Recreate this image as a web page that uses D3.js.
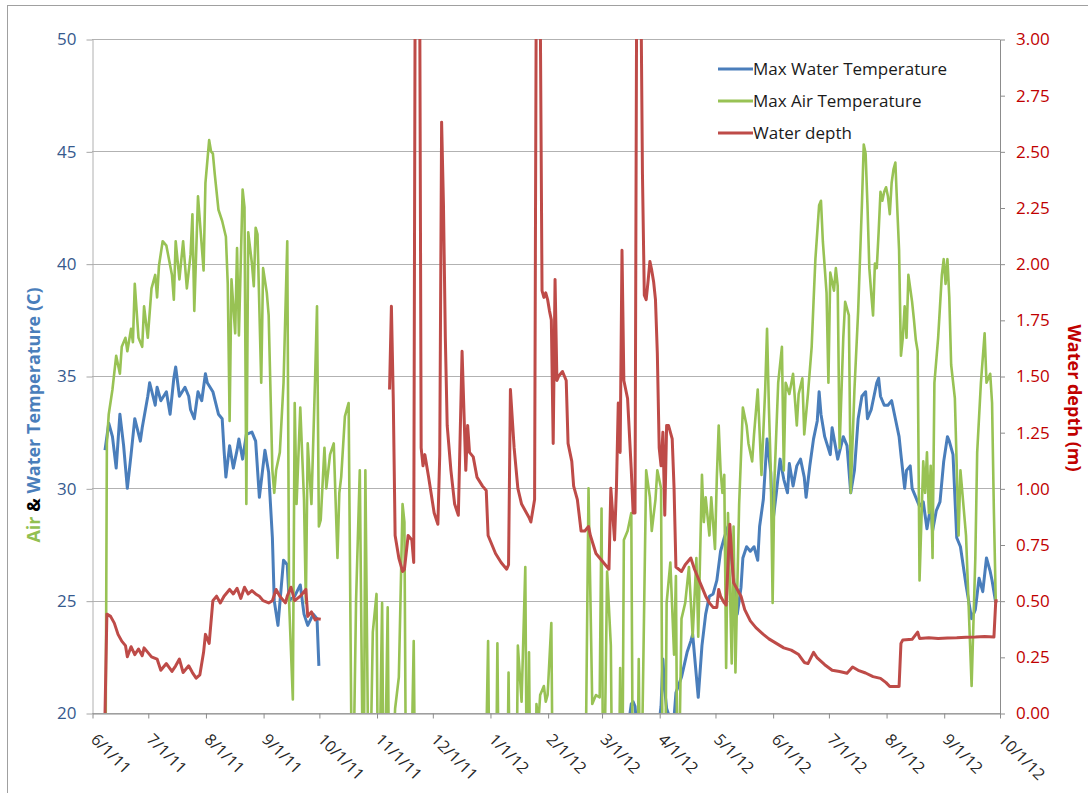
<!DOCTYPE html>
<html>
<head>
<meta charset="utf-8">
<script src="https://cdn.jsdelivr.net/npm/d3@7"></script>
<style>
  body { margin: 0; background: #fff; }
  svg text { font-family: "Open Sans", "Noto Sans", sans-serif; }
</style>
</head>
<body>
<svg id="chart" width="1088" height="793"></svg>
<script>
// Daily records, keyed by day offset from the first day of the record (6/1/11).
const recordStart = new Date(2011, 5, 1);
const recordEnd = new Date(2012, 9, 1);

// Max water temperature (°C), summer 2011
const waterTemp2011 = [
  [7,31.7],[9,32.9],[11,32.3],[13,30.9],[15,33.3],[17,31.9],[19,30.0],[21,31.5],[23,33.1],[26,32.1],
  [27,32.7],[30,34.1],[31,34.7],[34,33.7],[35,34.5],[37,33.9],[40,34.3],[42,33.3],[44,34.9],[45,35.4],
  [47,34.1],[50,34.5],[52,34.1],[53,33.5],[55,33.1],[57,34.3],[59,33.9],[61,35.1],[62,34.7],[65,34.3],
  [68,33.3],[70,33.1],[71,31.7],[72,30.5],[74,31.9],[76,30.9],[78,31.7],[79,32.2],[81,31.3],[83,32.4],
  [86,32.5],[88,32.1],[90,29.6],[93,31.7],[95,30.7],[97,27.8],[98,25.0],[100,23.9],[103,26.8],[105,26.6],
  [106,25.0],[109,25.2],[112,25.7],[114,24.4],[116,23.9],[119,24.4],[121,24.2],[122,22.1]
];

// Max water temperature (°C), spring–summer 2012
const waterTemp2012 = [
  [285,18.0],[289,19.8],[290,20.4],[291,20.5],[292,20.3],[293,19.4],[297,18.8],[301,19.2],[305,19.6],
  [306,20.3],[307,22.4],[308,21.0],[309,20.2],[311,19.7],[313,19.8],[314,20.9],[317,21.6],[320,22.7],
  [322,23.2],[323,23.5],[326,20.7],[328,23.0],[329,23.7],[330,24.4],[332,25.2],[334,25.3],[336,25.9],
  [338,27.2],[340,27.8],[342,28.3],[344,26.8],[347,24.4],[349,25.6],[350,26.9],[352,27.4],[354,27.2],
  [356,27.4],[358,26.8],[359,28.3],[361,29.5],[363,32.2],[365,30.7],[366,28.4],[368,29.8],[370,31.3],
  [372,30.4],[374,29.8],[375,31.1],[377,30.1],[379,31.0],[381,31.3],[383,30.5],[384,29.6],[386,31.0],
  [388,32.2],[390,33.0],[391,34.3],[392,33.3],[394,32.3],[397,31.5],[398,32.7],[401,31.3],[404,32.3],
  [406,31.9],[408,29.8],[410,30.8],[412,33.1],[414,34.1],[416,34.3],[417,33.1],[419,33.5],[420,33.9],
  [422,34.7],[423,34.9],[424,34.1],[426,33.7],[428,33.7],[430,33.9],[432,33.1],[434,32.3],[435,31.5],
  [437,30.0],[438,30.8],[440,31.0],[441,30.0],[443,29.6],[445,29.2],[447,29.4],[449,28.2],[451,29.2],
  [452,28.1],[454,29.0],[456,29.4],[458,31.2],[460,32.3],[461,32.1],[463,31.5],[465,27.8],[467,27.4],
  [470,25.7],[473,24.2],[475,24.6],[477,26.0],[479,25.4],[481,26.9],[483,26.3],[484,25.9],[486,24.9]
];

// Max air temperature (°C); winter readings fall below the axis floor
const airTemp = [
  [7,12],[8,32.0],[9,33.3],[11,34.4],[13,35.9],[15,35.1],[16,36.3],[18,36.7],[19,36.1],[21,37.1],
  [22,36.5],[23,39.1],[25,36.7],[27,36.3],[28,38.1],[30,36.7],[32,38.9],[34,39.5],[35,38.5],[36,39.9],
  [38,41.0],[40,40.8],[43,39.5],[44,38.4],[45,41.0],[47,39.3],[49,41.0],[51,38.9],[53,40.4],[54,42.2],
  [55,37.9],[57,43.0],[60,39.7],[61,43.6],[63,45.5],[64,45.0],[65,44.9],[66,44.0],[68,42.4],[70,41.9],
  [72,41.2],[73,39.1],[74,33.0],[75,39.3],[77,36.9],[78,40.7],[79,36.8],[81,43.3],[82,42.5],[83,29.3],
  [84,41.4],[86,40.0],[87,39.0],[88,41.6],[89,41.3],[91,34.7],[92,39.8],[94,38.7],[95,37.7],[97,30.8],
  [98,29.8],[99,30.8],[101,31.6],[103,34.7],[105,41.0],[106,24.9],[108,20.6],[109,33.8],[110,29.3],
  [112,33.6],[114,29.5],[115,24.9],[116,32.0],[118,29.3],[120,35.0],[121,38.1],[122,28.3],[123,28.6],
  [125,31.8],[126,30.0],[128,31.5],[130,32.0],[132,26.9],[133,29.8],[134,30.5],[136,33.2],[138,33.8],
  [140,14],[142,25.0],[144,30.8],[146,14],[147,30.8],[149,14],[151,23.6],[153,25.3],[154,14],[156,24.9],
  [157,14],[159,24.7],[160,14],[163,20.2],[165,21.6],[167,29.3],[168,28.5],[169,14],[171,14],[173,23.2],
  [174,14],[211,14],[213,23.2],[214,14],[217,14],[218,23.1],[219,14],[223,14],[224,21.8],[225,14],
  [228,14],[229,23.0],[231,20.5],[233,26.5],[234,14],[235,22.7],[236,14],[238,14],[239,20.4],[240,19.5],
  [241,20.8],[243,21.2],[244,20.5],[245,20.8],[247,24.0],[248,14],[265,14],[267,30.0],[269,20.4],
  [271,20.8],[273,20.7],[274,29.1],[275,14],[277,26.3],[279,23.0],[280,14],[283,14],[284,22.0],[285,14],
  [286,27.7],[288,28.1],[290,28.9],[291,14],[293,14],[294,22.4],[295,14],[298,30.8],[300,29.6],[301,28.1],
  [303,29.5],[304,30.8],[306,30.0],[307,14],[308,14],[309,24.9],[311,26.7],[313,22.6],[314,26.1],[315,14],
  [317,24.2],[319,24.9],[321,26.5],[323,23.4],[325,26.9],[326,23.4],[328,30.6],[329,28.5],[330,29.6],
  [332,27.9],[333,29.6],[335,27.3],[336,30.5],[337,32.8],[338,30.8],[339,29.8],[340,30.6],[341,22.0],
  [342,28.9],[343,25.7],[344,22.2],[345,28.3],[346,21.8],[348,29.3],[350,33.6],[352,32.8],[353,32.0],
  [355,31.2],[356,32.4],[358,34.4],[360,30.6],[362,34.4],[363,37.1],[364,33.6],[365,30.8],[366,24.9],
  [367,30.4],[369,34.7],[371,36.3],[372,30.8],[373,34.7],[375,34.2],[377,35.1],[379,32.8],[380,34.2],
  [382,34.9],[383,32.4],[385,34.2],[387,36.3],[388,38.3],[389,40.2],[391,42.6],[392,42.8],[393,41.0],
  [395,38.7],[396,34.7],[397,39.6],[399,38.8],[400,39.8],[401,39.0],[402,31.8],[404,36.7],[405,38.3],
  [407,37.7],[408,29.8],[410,34.4],[412,37.9],[414,42.6],[415,45.3],[416,44.9],[417,42.6],[418,39.8],
  [419,38.7],[420,37.7],[421,40.0],[422,39.8],[423,41.4],[424,43.2],[425,42.8],[426,43.2],[427,43.4],
  [428,43.0],[429,42.2],[430,43.6],[431,44.2],[432,44.5],[433,42.5],[434,40.6],[435,35.9],[436,36.7],
  [437,38.1],[438,36.7],[439,39.5],[441,38.3],[442,37.5],[443,36.6],[444,36.1],[445,25.9],[447,31.2],
  [448,29.8],[449,31.6],[450,28.9],[451,31.0],[452,26.9],[453,34.7],[455,36.7],[457,39.5],[458,40.2],
  [459,39.1],[460,40.2],[461,38.5],[462,35.5],[464,34.0],[466,27.9],[467,30.8],[470,27.9],[473,21.2],
  [475,26.9],[476,31.6],[478,34.7],[480,36.9],[481,34.7],[483,35.1],[484,33.8],[485,28.9],[486,24.9]
];

// Water depth (m), summer 2011
const depth2011 = [
  [7,0.0],[8,0.44],[10,0.43],[12,0.40],[14,0.35],[16,0.32],[18,0.30],[19,0.25],[21,0.295],[23,0.26],
  [25,0.285],[27,0.255],[28,0.29],[30,0.27],[32,0.25],[35,0.24],[37,0.19],[40,0.22],[43,0.185],[45,0.21],
  [47,0.24],[49,0.18],[52,0.21],[54,0.18],[56,0.155],[58,0.17],[60,0.27],[61,0.35],[63,0.31],[65,0.50],
  [67,0.52],[69,0.49],[71,0.52],[74,0.55],[76,0.53],[78,0.555],[80,0.51],[82,0.56],[84,0.53],[86,0.545],
  [88,0.53],[90,0.52],[92,0.50],[95,0.49],[97,0.50],[99,0.55],[101,0.52],[104,0.49],[105,0.52],[107,0.56],
  [109,0.50],[112,0.52],[115,0.55],[116,0.43],[118,0.45],[120,0.414],[121,0.42],[123,0.417]
];

// Water depth (m), November 2011 onward; storm peaks run past the axis top
const depth2012 = [
  [160,1.44],[161,1.81],[162,1.40],[163,0.79],[165,0.69],[167,0.63],[168,0.64],[170,0.79],[172,0.77],
  [173,0.67],[174,4.0],[175,4.5],[176,3.8],[177,1.18],[178,1.10],[179,1.15],[181,1.05],[184,0.89],
  [186,0.84],[187,1.15],[188,2.63],[189,2.26],[190,1.67],[191,1.28],[193,1.08],[195,0.93],[197,0.88],
  [199,1.61],[201,1.08],[202,1.28],[203,1.16],[205,1.14],[207,1.05],[210,1.01],[212,0.99],[213,0.79],
  [217,0.71],[220,0.67],[223,0.64],[224,0.66],[225,1.44],[227,1.18],[229,1.00],[231,0.93],[235,0.87],
  [236,0.85],[238,0.95],[239,3.5],[240,3.6],[241,3.2],[242,1.88],[243,1.85],[244,1.87],[245,1.84],
  [246,1.79],[247,1.75],[248,1.20],[249,1.93],[250,1.48],[251,1.50],[253,1.52],[255,1.48],[256,1.20],
  [258,1.12],[259,1.01],[261,0.95],[263,0.81],[265,0.81],[267,0.83],[268,0.79],[271,0.71],[274,0.68],
  [278,0.64],[279,1.00],[281,0.77],[282,1.00],[283,1.38],[284,1.16],[285,2.06],[286,1.48],[288,1.40],
  [290,1.08],[291,0.89],[292,0.89],[293,3.5],[294,3.8],[295,3.4],[296,2.4],[297,1.86],[298,1.84],
  [299,1.92],[300,2.01],[301,1.97],[302,1.92],[303,1.84],[304,1.60],[305,1.18],[306,1.10],[307,1.25],
  [308,0.88],[309,1.28],[310,1.28],[312,1.22],[313,1.0],[314,0.65],[317,0.63],[319,0.66],[321,0.68],
  [322,0.69],[324,0.64],[326,0.60],[328,0.56],[330,0.52],[332,0.49],[334,0.47],[336,0.47],[337,0.55],
  [338,0.52],[340,0.49],[341,0.48],[343,0.84],[344,0.70],[345,0.58],[347,0.55],[349,0.52],[351,0.46],
  [354,0.41],[357,0.38],[361,0.35],[364,0.33],[368,0.31],[372,0.29],[376,0.28],[380,0.26],[383,0.225],
  [385,0.22],[388,0.27],[390,0.245],[394,0.215],[398,0.19],[402,0.185],[406,0.177],[409,0.205],
  [412,0.19],[416,0.178],[420,0.162],[424,0.154],[427,0.135],[429,0.118],[434,0.118],[435,0.31],
  [436,0.325],[441,0.328],[444,0.36],[445,0.332],[450,0.335],[455,0.332],[460,0.334],[465,0.335],
  [470,0.337],[475,0.338],[480,0.34],[485,0.338],[486,0.50],[487,0.50]
];

const tempTicks = [20, 25, 30, 35, 40, 45, 50];
const depthTicks = [0, 0.25, 0.5, 0.75, 1.0, 1.25, 1.5, 1.75, 2.0, 2.25, 2.5, 2.75, 3.0];
const legendLabels = ["Max Water Temperature", "Max Air Temperature", "Water depth"];
const seriesColors = ["#4A7EBB", "#98C254", "#BE4B48"];

const svg = d3.select("#chart");
const plot = { left: 92, right: 999.5, top: 39, bottom: 713 };

const dayDate = d => d3.timeDay.offset(recordStart, d);
const x = d3.scaleTime().domain([recordStart, recordEnd]).range([plot.left, plot.right]);
const yTemp = d3.scaleLinear().domain([20, 50]).range([plot.bottom, plot.top]);
const yDepth = d3.scaleLinear().domain([0, 3]).range([plot.bottom, plot.top]);

// chart frame
svg.append("rect")
  .attr("x", 7.5).attr("y", 5.5).attr("width", 1200).attr("height", 900)
  .attr("fill", "#fff").attr("stroke", "#A0A0A0").attr("stroke-width", 1);

// horizontal gridlines
svg.append("g")
  .selectAll("line").data(tempTicks).join("line")
  .attr("x1", plot.left).attr("x2", plot.right + 0.5)
  .attr("y1", d => Math.round(yTemp(d)) + 0.5).attr("y2", d => Math.round(yTemp(d)) + 0.5)
  .attr("stroke", "#B2B2B2").attr("stroke-width", 1);

// left axis
const leftAxis = svg.append("g")
  .attr("transform", `translate(${plot.left + 0.5},0.5)`)
  .call(d3.axisLeft(yTemp).tickValues(tempTicks).tickSize(6).tickPadding(10).tickSizeOuter(0));
leftAxis.select(".domain").attr("stroke", "#B0B0B0");
leftAxis.selectAll(".tick line").attr("stroke", "#A6A6A6");
leftAxis.selectAll(".tick text").attr("fill", "#365A8E").style("font-size", "17px");

// right axis
const rightAxis = svg.append("g")
  .attr("transform", `translate(${plot.right + 0.5},0.5)`)
  .call(d3.axisRight(yDepth).tickValues(depthTicks).tickFormat(d3.format(".2f"))
    .tickSize(5).tickPadding(11).tickSizeOuter(0));
rightAxis.select(".domain").attr("stroke", "#8C8C8C");
rightAxis.selectAll(".tick line").attr("stroke", "#8C8C8C");
rightAxis.selectAll(".tick text").attr("fill", "#C00000").style("font-size", "17px");

// bottom axis: one tick per month, labels slanted
const bottomAxis = svg.append("g")
  .attr("transform", `translate(0.5,${plot.bottom + 0.5})`)
  .call(d3.axisBottom(x).ticks(d3.timeMonth.every(1)).tickFormat(d3.timeFormat("%-m/%-d/%y"))
    .tickSize(5).tickSizeOuter(0));
bottomAxis.select(".domain").attr("stroke", "#8C8C8C");
bottomAxis.selectAll(".tick line").attr("stroke", "#8C8C8C");
bottomAxis.selectAll(".tick text")
  .attr("x", 0).attr("y", 0).attr("dy", 0)
  .attr("transform", "translate(-3,27) rotate(45)")
  .style("text-anchor", "start").style("font-size", "16px").attr("fill", "#262626");

// data lines, clipped to the plot area
svg.append("clipPath").attr("id", "plot-clip")
  .append("rect").attr("x", plot.left).attr("y", plot.top)
  .attr("width", plot.right - plot.left + 1).attr("height", plot.bottom - plot.top);

const lines = svg.append("g").attr("clip-path", "url(#plot-clip)");
const tempLine = d3.line().x(d => x(dayDate(d[0]))).y(d => yTemp(d[1]));
const depthLine = d3.line().x(d => x(dayDate(d[0]))).y(d => yDepth(d[1]));

[waterTemp2011, waterTemp2012].forEach(seg =>
  lines.append("path").datum(seg).attr("d", tempLine)
    .attr("fill", "none").attr("stroke", seriesColors[0]).attr("stroke-width", 3)
    .attr("stroke-linejoin", "round"));
lines.append("path").datum(airTemp).attr("d", tempLine)
  .attr("fill", "none").attr("stroke", seriesColors[1]).attr("stroke-width", 2.6)
  .attr("stroke-linejoin", "round");
[depth2011, depth2012].forEach(seg =>
  lines.append("path").datum(seg).attr("d", depthLine)
    .attr("fill", "none").attr("stroke", seriesColors[2]).attr("stroke-width", 3)
    .attr("stroke-linejoin", "round"));

// legend
const legend = svg.append("g").attr("transform", "translate(718,69)");
legendLabels.forEach((label, i) => {
  const row = legend.append("g").attr("transform", `translate(0,${i * 32})`);
  row.append("line").attr("x1", 0).attr("x2", 35).attr("y1", 0).attr("y2", 0)
    .attr("stroke", seriesColors[i]).attr("stroke-width", 3);
  row.append("text").attr("x", 35).attr("y", 0).attr("dy", "0.36em")
    .style("font-size", "17px").attr("fill", "#1a1a1a").text(label);
});

// left axis title, three colours
const leftTitle = svg.append("text")
  .attr("transform", "translate(40,415) rotate(-90)")
  .attr("text-anchor", "middle").style("font-size", "18px").style("font-weight", "bold");
leftTitle.append("tspan").attr("fill", "#92C050").text("Air ");
leftTitle.append("tspan").attr("fill", "#000").text("& ");
leftTitle.append("tspan").attr("fill", "#4A7EBB").text("Water Temperature (C)");

// right axis title
svg.append("text")
  .attr("transform", "translate(1068,398) rotate(90)")
  .attr("text-anchor", "middle").style("font-size", "18px").style("font-weight", "bold")
  .attr("fill", "#C00000").text("Water depth (m)");
</script>
</body>
</html>
